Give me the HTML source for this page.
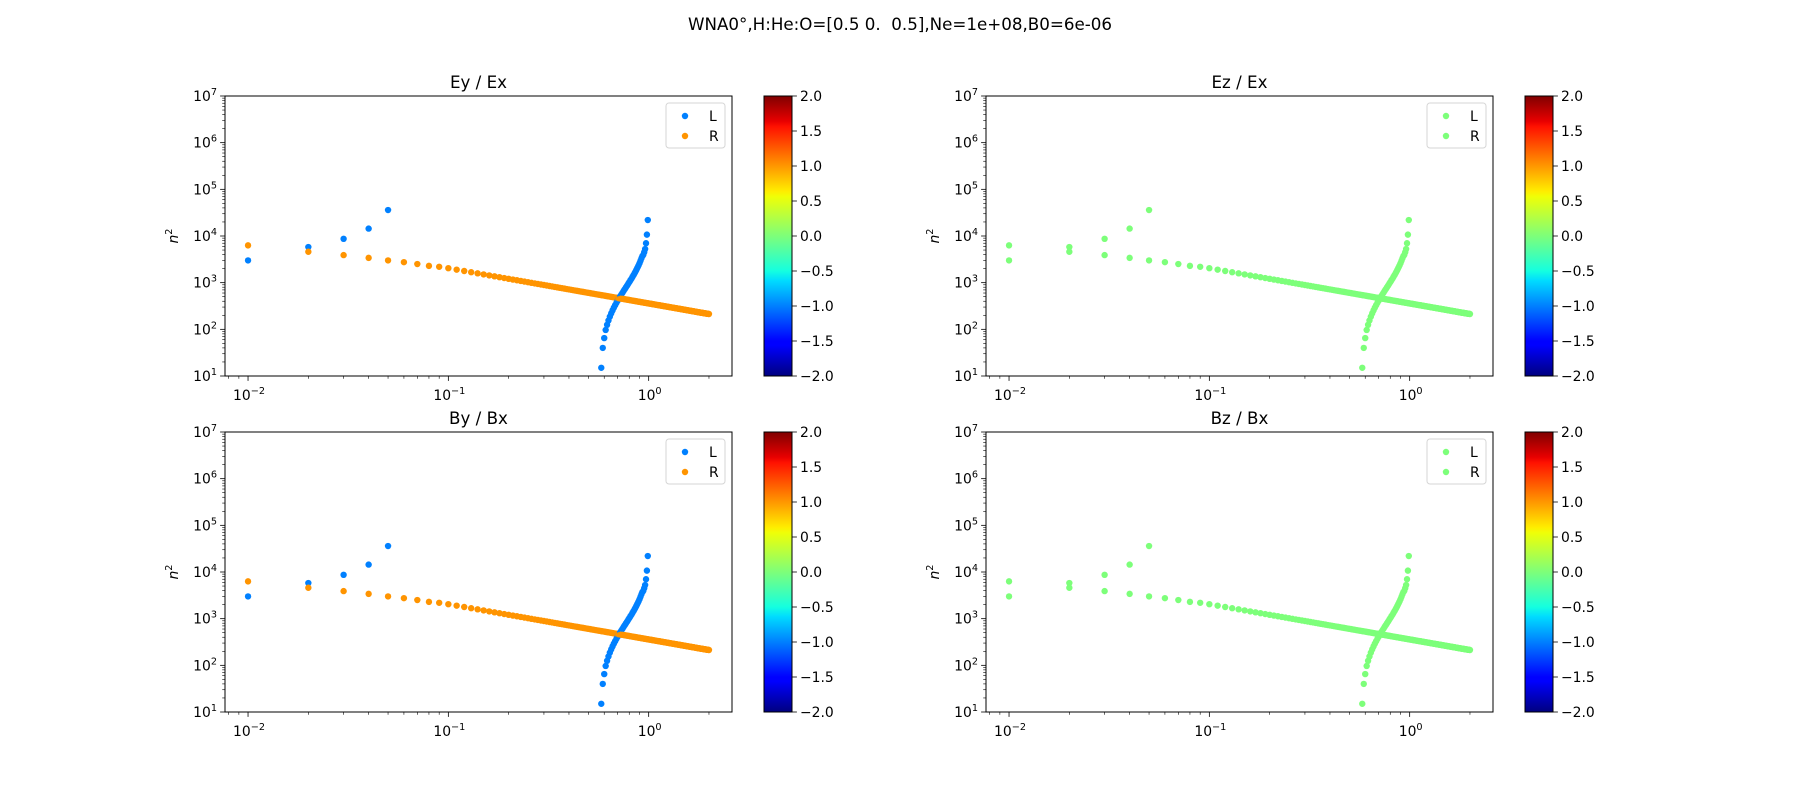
<!DOCTYPE html>
<html>
<head>
<meta charset="utf-8">
<style>
  html,body{margin:0;padding:0;background:#fff;}
  svg{display:block;font-family:"DejaVu Sans","Liberation Sans",sans-serif;}
</style>
</head>
<body>
<svg id="fig" width="1800" height="800" viewBox="0 0 1800 800" xmlns="http://www.w3.org/2000/svg">
  <defs>
    <linearGradient id="jet" x1="0" y1="1" x2="0" y2="0">
      <stop offset="0" stop-color="#000080"/>
      <stop offset="0.11" stop-color="#0000ff"/>
      <stop offset="0.125" stop-color="#0000ff"/>
      <stop offset="0.34" stop-color="#00dbff"/>
      <stop offset="0.375" stop-color="#14ffe0"/>
      <stop offset="0.5" stop-color="#7dff7a"/>
      <stop offset="0.64" stop-color="#efff07"/>
      <stop offset="0.66" stop-color="#ffed00"/>
      <stop offset="0.89" stop-color="#ff1200"/>
      <stop offset="0.91" stop-color="#e80000"/>
      <stop offset="1" stop-color="#800000"/>
    </linearGradient>
  </defs>
  <text x="900" y="30" text-anchor="middle" font-size="16.7" xml:space="preserve" style="white-space:pre">WNA0°,H:He:O=[0.5 0.  0.5],Ne=1e+08,B0=6e-06</text>
  <g id="panels"></g>
</svg>
<script>
// ---- data ----
const freqK = []; for (let k = 1; k <= 200; k++) freqK.push(k);   // frequency index, x = k/100
const rModeN2 = [6300,4600,3900,3400,3000,2750,2510,2290,2190,2042,
1900,1779,1675,1584,1503,1432,1368,1310,1258,1209,
1166,1126,1089,1054,1022,992,964,938,914,891,
869,848,829,810,793,776,760,745,731,717,
704,691,679,667,656,645,635,625,615,606,
597,588,580,571,564,556,549,541,535,528,
521,515,509,503,497,491,486,480,475,470,
465,460,455,451,446,442,437,433,429,425,
421,417,413,409,406,402,399,395,392,389,
385,382,379,376,373,370,367,364,362,359,
356,354,351,349,346,344,341,339,336,334,
332,330,328,326,323,321,319,317,315,313,
311,309,307,305,304,302,300,298,296,294,
293,291,290,288,286,285,283,282,280,278,
277,276,274,273,271,270,268,267,266,264,
263,262,260,259,258,257,255,254,253,252,
251,249,248,247,246,245,244,243,242,240,
239,238,237,236,235,234,233,232,231,230,
229,228,227,226,226,225,224,223,222,221,
220,219,219,218,217,216,215,215,214,213];
const lModeFreq = [0.01,0.02,0.03,0.04,0.05,
0.58,0.59,0.60,0.61,0.62,0.63,0.64,0.65,0.66,0.67,0.68,0.69,0.70,0.71,0.72,0.73,0.74,0.75,0.76,0.77,0.78,0.79,
0.80,0.81,0.82,0.83,0.84,0.85,0.86,0.87,0.88,0.89,0.90,0.91,0.92,0.93,0.94,0.95,0.96,0.97,0.98,0.99];
const lModeN2 = [3000,5800,8700,14400,36000,
15,40,65,97,125,155,187,220,254,291,329,369,411,456,504,554,608,666,727,794,865,942,
1025,1116,1216,1326,1448,1584,1737,1909,2109,2338,2608,2928,3323,3700,3950,4500,5250,7000,10700,22000];
const yTickExps = [1,2,3,4,5,6,7];
const xTickExps = [-2,-1,0];
const cbTicks = [-2.0,-1.5,-1.0,-0.5,0.0,0.5,1.0,1.5,2.0];

// ---- layout ----
const NS = "http://www.w3.org/2000/svg";
const W = 507, H = 280, XMIN = -2.115, XMAX = 0.416, YMIN = 1, YMAX = 7;
const BLUE = "#0080ff", ORANGE = "#ff9400", GREEN = "#7dff7a";
const panelDefs = [
  {x0:225, y0:96, title:"Ey / Ex", cl:BLUE, cr:ORANGE, key:"ey-ex"},
  {x0:986, y0:96, title:"Ez / Ex", cl:GREEN, cr:GREEN, key:"ez-ex"},
  {x0:225, y0:432, title:"By / Bx", cl:BLUE, cr:ORANGE, key:"by-bx"},
  {x0:986, y0:432, title:"Bz / Bx", cl:GREEN, cr:GREEN, key:"bz-bx"}
];
function mk(tag, attrs, parent){ const e=document.createElementNS(NS,tag); for(const k in attrs) e.setAttribute(k,attrs[k]); if(parent) parent.appendChild(e); return e; }
function supText(parent, x, y, base, sup, anchor){
  const t = mk("text",{x:x,y:y,"font-size":"13.9","text-anchor":anchor,fill:"#000"},parent);
  t.appendChild(document.createTextNode(base));
  const s = mk("tspan",{"font-size":"9.7",dy:"-6"},t);
  s.textContent = sup;
  return t;
}
const root = document.getElementById("panels");
panelDefs.forEach(p => {
  const xs = v => p.x0 + (Math.log10(v) - XMIN) / (XMAX - XMIN) * W;
  const ys = v => p.y0 + H - (Math.log10(v) - YMIN) / (YMAX - YMIN) * H;
  const g = mk("g",{},root);
  
  
  const bg = mk("rect",{x:p.x0,y:p.y0,width:W,height:H,fill:"#fff"},g);
  
  
  const tt = mk("text",{x:p.x0+W/2,y:p.y0-8,"text-anchor":"middle","font-size":"16.7"},g);
  tt.textContent = p.title;
  
  
  const yl = mk("text",{x:0,y:0,"font-size":"13.9","font-style":"italic","text-anchor":"middle",transform:`translate(${p.x0-47},${p.y0+H/2}) rotate(-90)`},g);
  yl.appendChild(document.createTextNode("n"));
  const ys2 = mk("tspan",{"font-size":"9.7",dy:"-6","font-style":"normal"},yl); ys2.textContent="2";
  
  
  const yax = mk("g",{},g);
  
  
  yTickExps.forEach(e => {
    const y = ys(Math.pow(10,e));
    mk("line",{x1:p.x0-4.9,x2:p.x0,y1:y,y2:y,stroke:"#000","stroke-width":0.8},yax);
    const lab = supText(yax, p.x0-8, y+5, "10", String(e), "end");
    
    
    if (e < 7) for (let m=2;m<=9;m++){ const ym = ys(m*Math.pow(10,e)); mk("line",{x1:p.x0-2.8,x2:p.x0,y1:ym,y2:ym,stroke:"#000","stroke-width":0.6},yax); }
  });
  const xax = mk("g",{},g);
  
  
  const yb = p.y0+H;
  xTickExps.forEach(e => {
    const x = xs(Math.pow(10,e));
    mk("line",{x1:x,x2:x,y1:yb,y2:yb+4.9,stroke:"#000","stroke-width":0.8},xax);
    const lab = supText(xax, x+1, yb+24, "10", e<0?("\u2212"+(-e)):String(e), "middle");
    
    
  });
  for (let e=-3;e<=0;e++) for (let m=2;m<=9;m++){ const v=m*Math.pow(10,e); const lv=Math.log10(v); if(lv<XMIN||lv>XMAX) continue; const x=xs(v); mk("line",{x1:x,x2:x,y1:yb,y2:yb+2.8,stroke:"#000","stroke-width":0.6},xax); }
  const pts = mk("g",{},g);
  
  
  freqK.forEach((k, i) => {
    const f = k/100;
    const li = lModeFreq.findIndex(v => Math.abs(v - f) < 1e-9);
    if (li >= 0) {
      const c = mk("circle",{cx:xs(f),cy:ys(lModeN2[li]),r:3.2,fill:p.cl},pts);
      
      
    }
    const c2 = mk("circle",{cx:xs(f),cy:ys(rModeN2[i]),r:3.2,fill:p.cr},pts);
    
    
  });
  mk("rect",{x:p.x0,y:p.y0,width:W,height:H,fill:"none",stroke:"#000","stroke-width":1},g);
  const lg = mk("g",{},g);
  
  
  mk("rect",{x:p.x0+W-66,y:p.y0+7,width:59,height:45,rx:3,fill:"#fff","fill-opacity":0.8,stroke:"#d6d6d6","stroke-width":1},lg);
  [["L",p.cl],["R",p.cr]].forEach((it,j)=>{
    const e = mk("g",{},lg);
    
    
    mk("circle",{cx:p.x0+W-47,cy:p.y0+20+j*20,r:3.2,fill:it[1]},e);
    const t = mk("text",{x:p.x0+W-23,y:p.y0+25+j*20,"font-size":"13.9"},e);
    t.textContent = it[0];
  });
  const cbx = p.x0 + 539, cbw = 28;
  const cb = mk("g",{},g);
  
  
  mk("rect",{x:cbx,y:p.y0,width:cbw,height:H,fill:"url(#jet)",stroke:"#000","stroke-width":1},cb);
  cbTicks.forEach(v=>{
    const y = p.y0 + H - (v+2)/4*H;
    mk("line",{x1:cbx+cbw,x2:cbx+cbw+4.9,y1:y,y2:y,stroke:"#000","stroke-width":0.8},cb);
    const t = mk("text",{x:cbx+cbw+8,y:y+5,"font-size":"13.9"},cb);
    t.textContent = (v<0?"\u2212":"") + Math.abs(v).toFixed(1);
    
    
  });
});
</script>
</body>
</html>
